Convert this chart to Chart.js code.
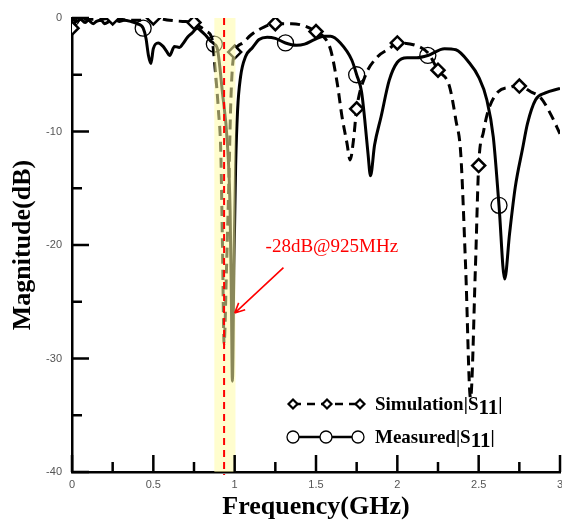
<!DOCTYPE html>
<html>
<head>
<meta charset="utf-8">
<script src="https://cdn.jsdelivr.net/npm/chart.js@4.4.0/dist/chart.umd.min.js"></script>
<style>
  html, body { margin: 0; padding: 0; background: #fff; }
</style>
</head>
<body>
<canvas id="s11Chart" width="562" height="523"></canvas>
<script>
// Simulated |S11| (dB) vs frequency (GHz)
const simFreq = [0, 0.03, 0.1, 0.18, 0.25, 0.35, 0.43, 0.5, 0.6, 0.68,
    0.75, 0.79, 0.83, 0.86, 0.88, 0.9, 0.915, 0.925, 0.935, 0.95,
    0.965, 0.975, 0.985, 1.0, 1.05, 1.1, 1.18, 1.25, 1.35, 1.43,
    1.5, 1.55, 1.59, 1.63, 1.66, 1.69, 1.71, 1.73, 1.75, 1.8,
    1.88, 1.95, 2.0, 2.11, 2.19, 2.25, 2.32, 2.36, 2.39, 2.42,
    2.45, 2.48, 2.5, 2.53, 2.56, 2.62, 2.69, 2.75, 2.82, 2.88,
    2.94, 3.0];
const simS11 = [-0.9, -0.2, -0.1, -0.1, 0, -0.2, -0.2, 0, -0.2, -0.3,
    -0.4, -0.8, -1.2, -1.8, -4.5, -8.1, -12, -20, -28.7, -22,
    -14, -8, -4.6, -3.0, -2.2, -1.5, -0.8, -0.5, -0.5, -0.7,
    -1.2, -1.7, -2.8, -5.7, -8.7, -11, -12.5, -10.8, -8, -5.2,
    -3.4, -2.7, -2.2, -2.4, -3.1, -4.6, -6, -9, -12, -22,
    -33.5, -22, -13, -10, -8.1, -6.5, -6.1, -6.0, -6.5, -7.0,
    -8.4, -10.2];

// Measured |S11| (dB) vs frequency (GHz)
const measFreq = [0, 0.03, 0.05, 0.08, 0.1, 0.13, 0.15, 0.18, 0.2, 0.23,
    0.26, 0.29, 0.32, 0.36, 0.4, 0.4375, 0.455, 0.47, 0.485, 0.5,
    0.53, 0.56, 0.58, 0.6, 0.63, 0.66, 0.68, 0.71, 0.74, 0.77,
    0.79, 0.82, 0.85, 0.875, 0.895, 0.925, 0.955, 0.972, 0.98, 0.986,
    0.995, 1.006, 1.018, 1.036, 1.067, 1.11, 1.15, 1.2, 1.25, 1.3125,
    1.38, 1.43, 1.49, 1.55, 1.59, 1.65, 1.72, 1.75, 1.78, 1.8,
    1.82, 1.835, 1.86, 1.9, 1.95, 2.0, 2.06, 2.12, 2.1875, 2.29,
    2.36, 2.44, 2.5, 2.55, 2.59, 2.625, 2.66, 2.69, 2.725, 2.77,
    2.8, 2.85, 2.91, 3.0];
const measS11 = [0, -0.3, -0.1, -0.4, -0.2, -0.5, -0.3, -0.2, -0.5, -0.3,
    -0.1, -0.3, -0.2, -0.3, -0.5, -0.9, -1.8, -3.3, -4.0, -2.7,
    -2.2, -2.5, -2.9, -3.3, -2.5, -2.6, -2.3, -1.7, -1.3, -0.9,
    -1.1, -1.5, -2.0, -2.3, -2.8, -6.6, -11, -17, -25, -32,
    -22, -13, -8.1, -5.2, -3.4, -2.6, -1.9, -1.7, -1.8, -2.2,
    -2.4, -2.3, -1.9, -1.6, -1.6, -2.2, -3.7, -5.0, -6.5, -9,
    -12, -13.9, -11.2, -8.7, -5.5, -3.9, -3.5, -3.5, -3.3, -2.7,
    -2.8, -3.9, -5.2, -7.2, -10.5, -16.5, -23, -19, -14.9, -11.5,
    -9.3, -7.2, -6.6, -6.2];

// Frequencies that carry a marker symbol
const simMarkerFreq = [0, 0.25, 0.5, 0.75, 1.0, 1.25, 1.5, 1.75, 2.0, 2.25, 2.5, 2.75];
const measMarkerFreq = [0, 0.4375, 0.875, 1.3125, 1.75, 2.1875, 2.625];

// Highlighted band and marked resonance (GHz)
const bandFreq = [0.875, 1.005];
const resonanceFreq = 0.935;
const noteText = '-28dB@925MHz';
const notePos = [1.19, -20.2];      // text anchor (GHz, dB)
const arrowFrom = [1.3, -22];
const arrowTo = [1.0, -26];

const serif = '"Liberation Serif", "Times New Roman", serif';
const sans = '"Liberation Sans", Arial, sans-serif';

function toPoints(xs, ys) {
    return xs.map((x, i) => ({ x: x, y: ys[i] }));
}

// Inward tick marks on both axes
const innerTicks = {
    id: 'innerTicks',
    afterDraw(chart) {
        const ctx = chart.ctx;
        const xs = chart.scales.x, ys = chart.scales.y;
        const area = chart.chartArea;
        ctx.save();
        ctx.strokeStyle = '#000';
        ctx.lineWidth = 2.5;
        ctx.beginPath();
        for (let v = 0; v <= 3.0001; v += 0.25) {
            const px = xs.getPixelForValue(v);
            const len = Math.abs(v * 2 - Math.round(v * 2)) < 0.01 ? 17 : 10;
            ctx.moveTo(px, area.bottom);
            ctx.lineTo(px, area.bottom - len);
        }
        for (let v = -40; v <= 0; v += 5) {
            const py = ys.getPixelForValue(v);
            const len = v % 10 === 0 ? 17 : 10;
            ctx.moveTo(area.left, py);
            ctx.lineTo(area.left + len, py);
        }
        ctx.stroke();
        ctx.restore();
    }
};

// Yellow band, red resonance line and annotation
const highlight = {
    id: 'highlight',
    afterDatasetsDraw(chart) {
        const ctx = chart.ctx;
        const xs = chart.scales.x, ys = chart.scales.y;
        const area = chart.chartArea;
        const x0 = xs.getPixelForValue(bandFreq[0]);
        const x1 = xs.getPixelForValue(bandFreq[1]);
        ctx.save();
        ctx.fillStyle = 'rgba(255, 252, 165, 0.54)';
        ctx.fillRect(x0, area.top, x1 - x0, area.bottom - area.top);

        const rx = xs.getPixelForValue(resonanceFreq);
        ctx.strokeStyle = '#ff0000';
        ctx.lineWidth = 2;
        ctx.setLineDash([7, 5]);
        ctx.beginPath();
        ctx.moveTo(rx, area.top);
        ctx.lineTo(rx, area.bottom + 3);
        ctx.stroke();
        ctx.setLineDash([]);

        ctx.fillStyle = '#ff0000';
        ctx.font = '19px ' + serif;
        ctx.textBaseline = 'middle';
        ctx.fillText(noteText, xs.getPixelForValue(notePos[0]), ys.getPixelForValue(notePos[1]));

        const ax = xs.getPixelForValue(arrowFrom[0]), ay = ys.getPixelForValue(arrowFrom[1]);
        const bx = xs.getPixelForValue(arrowTo[0]), by = ys.getPixelForValue(arrowTo[1]);
        const ang = Math.atan2(by - ay, bx - ax);
        ctx.lineWidth = 1.6;
        ctx.beginPath();
        ctx.moveTo(ax, ay);
        ctx.lineTo(bx, by);
        ctx.moveTo(bx, by);
        ctx.lineTo(bx - 11 * Math.cos(ang - 0.45), by - 11 * Math.sin(ang - 0.45));
        ctx.moveTo(bx, by);
        ctx.lineTo(bx - 11 * Math.cos(ang + 0.45), by - 11 * Math.sin(ang + 0.45));
        ctx.stroke();
        ctx.restore();
    }
};

// Legend with subscripted S11
const s11Legend = {
    id: 's11Legend',
    afterDraw(chart) {
        const ctx = chart.ctx;
        const rows = [
            { name: 'Simulation', y: 404, dash: [8, 6], marks: [293, 327, 360], diamond: true },
            { name: 'Measured', y: 437, dash: [], marks: [293, 326, 358], diamond: false }
        ];
        ctx.save();
        rows.forEach(r => {
            ctx.strokeStyle = '#000';
            ctx.lineWidth = 2.5;
            ctx.setLineDash(r.dash);
            ctx.beginPath();
            ctx.moveTo(r.marks[0], r.y);
            ctx.lineTo(r.marks[2], r.y);
            ctx.stroke();
            ctx.setLineDash([]);
            r.marks.forEach(mx => {
                ctx.beginPath();
                if (r.diamond) {
                    ctx.lineWidth = 2.2;
                    ctx.moveTo(mx - 4.5, r.y);
                    ctx.lineTo(mx, r.y - 4.5);
                    ctx.lineTo(mx + 4.5, r.y);
                    ctx.lineTo(mx, r.y + 4.5);
                    ctx.closePath();
                } else {
                    ctx.lineWidth = 1.3;
                    ctx.arc(mx, r.y, 6, 0, Math.PI * 2);
                }
                ctx.fillStyle = '#fff';
                ctx.fill();
                ctx.stroke();
            });
            ctx.fillStyle = '#000';
            ctx.font = 'bold 19px ' + serif;
            ctx.textBaseline = 'alphabetic';
            let tx = 375;
            const base = r.y + 6;
            const head = r.name + '|S';
            ctx.fillText(head, tx, base);
            tx += ctx.measureText(head).width;
            ctx.font = 'bold 21px ' + serif;
            ctx.fillText('11', tx, base + 4);
            tx += ctx.measureText('11').width;
            ctx.font = 'bold 19px ' + serif;
            ctx.fillText('|', tx, base);
        });
        ctx.restore();
    }
};

new Chart(document.getElementById('s11Chart'), {
    type: 'line',
    data: {
        datasets: [
            {
                label: 'Simulation|S11|',
                data: toPoints(simFreq, simS11),
                borderColor: '#000',
                borderWidth: 3,
                borderDash: [10, 6],
                cubicInterpolationMode: 'monotone',
                pointStyle: 'rectRot',
                pointRadius: c => simMarkerFreq.includes(c.raw.x) ? 6.5 : 0,
                pointBorderWidth: 2.5,
                pointBorderColor: '#000',
                pointBackgroundColor: '#fff'
            },
            {
                label: 'Measured|S11|',
                data: toPoints(measFreq, measS11),
                borderColor: '#000',
                borderWidth: 3,
                cubicInterpolationMode: 'monotone',
                pointStyle: 'circle',
                pointRadius: c => measMarkerFreq.includes(c.raw.x) ? 8 : 0,
                pointBorderWidth: 1.3,
                pointBorderColor: '#000',
                pointBackgroundColor: 'rgba(0,0,0,0)'
            }
        ]
    },
    options: {
        responsive: false,
        animation: false,
        layout: { autoPadding: false, padding: { top: 18, right: 2, bottom: 0, left: 0 } },
        plugins: {
            legend: { display: false },
            tooltip: { enabled: false }
        },
        scales: {
            x: {
                type: 'linear',
                min: 0,
                max: 3,
                afterFit: s => { s.height = 51; s.paddingLeft = 0; s.paddingRight = 0; },
                grid: { display: false, drawTicks: false },
                border: { display: true, color: '#000', width: 2.5 },
                ticks: {
                    stepSize: 0.5,
                    padding: 6,
                    color: '#555',
                    font: { family: sans, size: 11 },
                    callback: v => String(v)
                },
                title: {
                    display: true,
                    text: 'Frequency(GHz)',
                    color: '#000',
                    padding: { top: 0, bottom: 0 },
                    font: { family: serif, size: 26, weight: 'bold' }
                }
            },
            y: {
                min: -40,
                max: 0,
                afterFit: s => { s.width = 72; },
                grid: { display: false, drawTicks: false },
                border: { display: true, color: '#000', width: 2.5 },
                ticks: {
                    stepSize: 10,
                    padding: 10,
                    color: '#555',
                    font: { family: sans, size: 11 }
                },
                title: {
                    display: true,
                    text: 'Magnitude(dB)',
                    color: '#000',
                    padding: { top: 8, bottom: 0 },
                    font: { family: serif, size: 26, weight: 'bold' }
                }
            }
        }
    },
    plugins: [highlight, innerTicks, s11Legend]
});
</script>
</body>
</html>
